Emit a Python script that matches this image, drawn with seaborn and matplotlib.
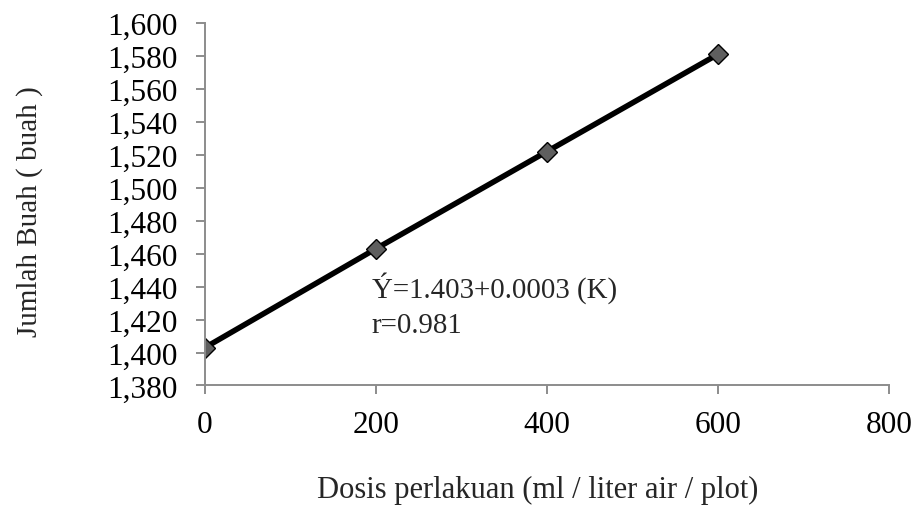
import matplotlib
matplotlib.use("Agg")
import matplotlib.pyplot as plt
import seaborn as sns
from matplotlib.ticker import FuncFormatter, MultipleLocator

# data
dosis = [0, 200, 400, 600]
jumlah_buah = [1.403, 1.463, 1.522, 1.581]
persamaan = "Ý=1.403+0.0003 (K)"
korelasi = "r=0.981"

sns.set_style("white")
plt.rcParams['font.family'] = ['Liberation Serif', 'DejaVu Serif']

fig = plt.figure(figsize=(9.15, 5.06), dpi=100)
ax = fig.add_axes([0.224, 0.2362, 0.7475, 0.7164])

sns.lineplot(x=dosis, y=jumlah_buah, ax=ax, color='black', linewidth=4,
             marker='D', markersize=10, markerfacecolor='#5f5f5f',
             markeredgecolor='black', markeredgewidth=1.0)

ax.set_xlim(0, 800)
ax.set_ylim(1.38, 1.60)
ax.xaxis.set_major_locator(MultipleLocator(200))
ax.yaxis.set_major_locator(MultipleLocator(0.02))
ax.yaxis.set_major_formatter(FuncFormatter(lambda v, p: f"{v:.3f}".replace('.', ',')))

for s in ['top', 'right']:
    ax.spines[s].set_visible(False)
for s in ['left', 'bottom']:
    ax.spines[s].set_color('#8c8c8c')
    ax.spines[s].set_linewidth(1.4)

ax.tick_params(axis='both', which='major', direction='out', length=6.5, width=1.4,
               color='#8c8c8c', labelsize=22.5, labelcolor='black',
               bottom=True, left=True)
ax.tick_params(axis='x', pad=11)
ax.tick_params(axis='y', pad=13.5)

ax.set_xlabel("Dosis perlakuan (ml / liter air / plot)", fontsize=22)
ax.xaxis.set_label_coords(0.487, -0.247)
ax.set_ylabel("Jumlah Buah ( buah )", fontsize=21)
ax.yaxis.set_label_coords(-0.237, 0.483)

ax.text(0.244, 0.271, persamaan, transform=ax.transAxes, fontsize=20.8,
        ha='left', va='center')
ax.text(0.244, 0.168, korelasi, transform=ax.transAxes, fontsize=20.8,
        ha='left', va='center')

fig.savefig("out.png", dpi=100)
